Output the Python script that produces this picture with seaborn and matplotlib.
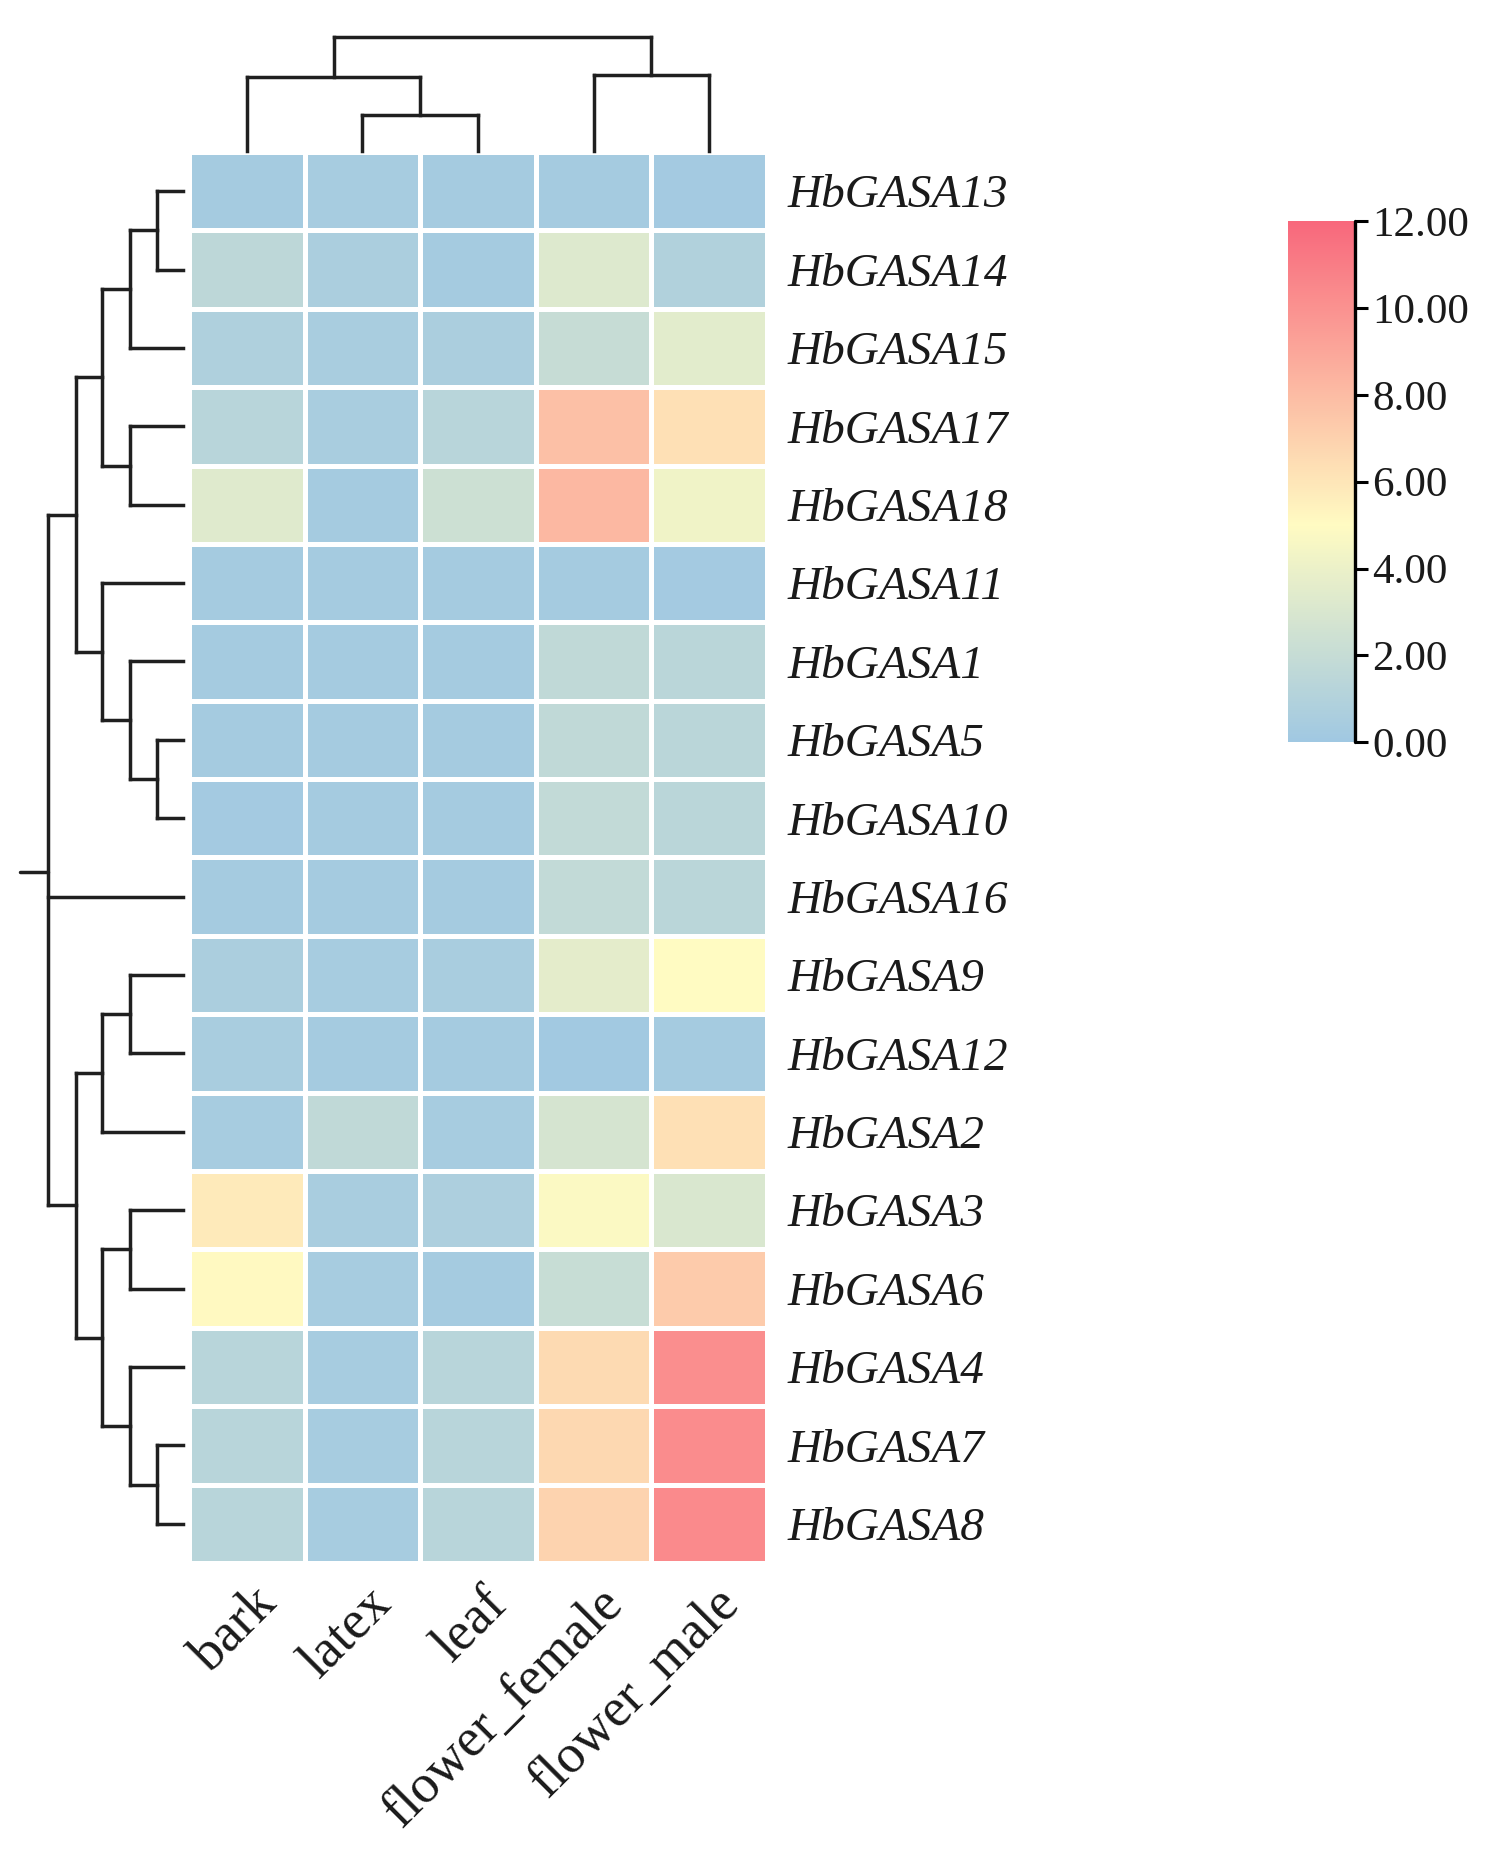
import numpy as np
import pandas as pd
import matplotlib
matplotlib.use('Agg')
import matplotlib.pyplot as plt
import matplotlib.transforms as mtransforms
import seaborn as sns
from matplotlib.colors import LinearSegmentedColormap

# heatmap rows (top to bottom, clustered order) and columns
genes = ['HbGASA13', 'HbGASA14', 'HbGASA15', 'HbGASA17', 'HbGASA18', 'HbGASA11',
         'HbGASA1', 'HbGASA5', 'HbGASA10', 'HbGASA16', 'HbGASA9', 'HbGASA12',
         'HbGASA2', 'HbGASA3', 'HbGASA6', 'HbGASA4', 'HbGASA7', 'HbGASA8']
tissues = ['bark', 'latex', 'leaf', 'flower_female', 'flower_male']

bark = [0.3, 1.5, 0.8, 1.3, 3.3, 0.3, 0.3, 0.3, 0.2, 0.3, 0.6, 0.5, 0.4, 5.8, 5.1, 1.3, 1.3, 1.3]
latex = [0.4, 0.6, 0.5, 0.5, 0.3, 0.3, 0.3, 0.3, 0.3, 0.3, 0.4, 0.3, 1.7, 0.5, 0.4, 0.4, 0.4, 0.4]
leaf = [0.3, 0.3, 0.6, 1.3, 2.3, 0.3, 0.3, 0.3, 0.3, 0.3, 0.5, 0.3, 0.4, 0.7, 0.3, 1.3, 1.3, 1.3]
flower_female = [0.3, 3.2, 2.0, 7.8, 8.2, 0.3, 1.7, 1.7, 1.8, 1.8, 3.6, 0.1, 2.8, 4.8, 2.1, 6.6, 6.7, 6.9]
flower_male = [0.2, 0.9, 3.5, 6.3, 4.2, 0.2, 1.4, 1.4, 1.4, 1.4, 5.0, 0.3, 6.3, 3.0, 7.3, 10.2, 10.3, 10.4]

# cluster trees: (merge height, [children])
row_tree = (135, [
    (107, [
        (81, [(53, [(26, ['HbGASA13', 'HbGASA14']), 'HbGASA15']),
              (53, ['HbGASA17', 'HbGASA18'])]),
        (81, ['HbGASA11', (53, ['HbGASA1', (26, ['HbGASA5', 'HbGASA10'])])]),
    ]),
    'HbGASA16',
    (107, [
        (81, [(53, ['HbGASA9', 'HbGASA12']), 'HbGASA2']),
        (81, [(53, ['HbGASA3', 'HbGASA6']),
              (53, ['HbGASA4', (26, ['HbGASA7', 'HbGASA8'])])]),
    ]),
])
row_root_stub = 163

col_tree = (114, [
    (74, ['bark', (36, ['latex', 'leaf'])]),
    (76, ['flower_female', 'flower_male']),
])

cbar_ticks = [0, 2, 4, 6, 8, 10, 12]

df = pd.DataFrame({'bark': bark, 'latex': latex, 'leaf': leaf,
                   'flower_female': flower_female, 'flower_male': flower_male},
                  index=genes)[tissues]

sns.set_style('white')
plt.rcParams['font.family'] = ['Liberation Serif', 'DejaVu Serif']
plt.rcParams['text.color'] = '#1a1a1a'
plt.rcParams['xtick.color'] = '#1a1a1a'
plt.rcParams['ytick.color'] = '#1a1a1a'

cmap = LinearSegmentedColormap.from_list(
    'gasa', [(0.0, '#a0c8e2'), (5 / 12, '#fffbc2'), (1.0, '#f8687c')])

fig = plt.figure(figsize=(14.98, 18.6), dpi=100)
ax = fig.add_axes([0.1262, 0.1597, 0.3858, 0.7586])
cax = fig.add_axes([0.860, 0.601, 0.0447, 0.280])
rax = fig.add_axes([0.01335, 0.1597, 0.1088, 0.7586])
tax = fig.add_axes([0.1262, 0.9188, 0.3858, 0.0613])

sns.heatmap(df, ax=ax, cmap=cmap, vmin=0, vmax=12, linewidths=2.5, linecolor='white',
            cbar_ax=cax, cbar_kws={'ticks': cbar_ticks, 'format': '%.2f'})

ax.yaxis.tick_right()
ax.set_yticklabels(genes, rotation=0, fontsize=34, fontstyle='italic', ha='left')
ax.tick_params(axis='y', length=0, pad=15)
ax.set_xticklabels(tissues, rotation=45, ha='right', va='center',
                   rotation_mode='anchor', fontsize=39)
ax.tick_params(axis='x', length=0, pad=24)
ax.set_xlabel('')
ax.set_ylabel('')
shift = mtransforms.ScaledTranslation(0.22, 0, fig.dpi_scale_trans)
for lbl in ax.get_xticklabels():
    lbl.set_transform(lbl.get_transform() + shift)

# colorbar styling
cbar = ax.collections[0].colorbar
cbar.outline.set_visible(False)
cax.plot([1, 1], [0, 1], transform=cax.transAxes, color='black', lw=2.4, clip_on=False)
cax.tick_params(labelsize=31, length=9, width=2.2, color='black', pad=3)


def draw_tree(axis, node, pos, horizontal):
    if isinstance(node, str):
        return pos[node], 0
    h, kids = node
    pts = [draw_tree(axis, k, pos, horizontal) for k in kids]
    ps = [p for p, _ in pts]
    for p, kh in pts:
        if horizontal:
            axis.plot([kh, h], [p, p], color='#1f1f1f', lw=2.5, solid_capstyle='projecting', clip_on=False)
        else:
            axis.plot([p, p], [kh, h], color='#1f1f1f', lw=2.5, solid_capstyle='projecting', clip_on=False)
    if horizontal:
        axis.plot([h, h], [min(ps), max(ps)], color='#1f1f1f', lw=2.5, solid_capstyle='projecting', clip_on=False)
    else:
        axis.plot([min(ps), max(ps)], [h, h], color='#1f1f1f', lw=2.5, solid_capstyle='projecting', clip_on=False)
    return float(np.mean(ps)), h


row_pos = {g: i + 0.5 for i, g in enumerate(genes)}
root_y, root_h = draw_tree(rax, row_tree, row_pos, True)
rax.plot([root_h, row_root_stub], [root_y, root_y], color='#1f1f1f', lw=2.5, clip_on=False)
rax.set_xlim(row_root_stub, 0)
rax.set_ylim(len(genes), 0)
rax.axis('off')

col_pos = {t: i + 0.5 for i, t in enumerate(tissues)}
draw_tree(tax, col_tree, col_pos, False)
tax.set_xlim(0, len(tissues))
tax.set_ylim(0, 114)
tax.axis('off')

fig.savefig('out.png', dpi=100)
